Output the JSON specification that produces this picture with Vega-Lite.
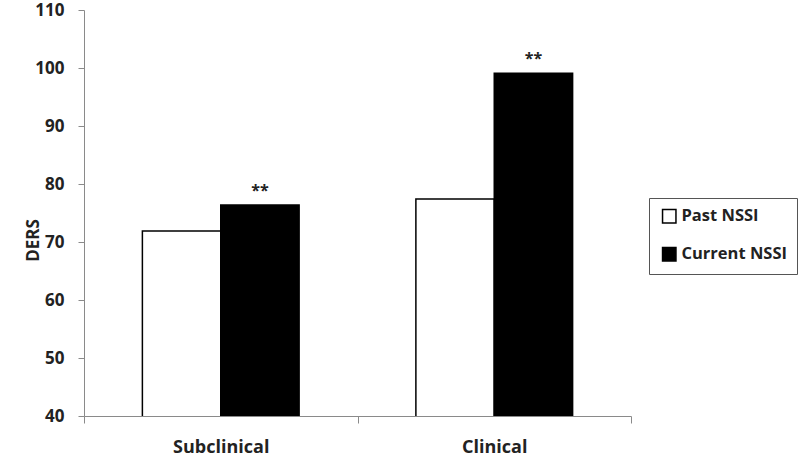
{
  "$schema": "https://vega.github.io/schema/vega-lite/v6.json",
  "autosize": {"type": "none"},
  "padding": {"left": 84, "top": 10, "right": 169, "bottom": 40},
  "width": 547,
  "height": 406,
  "background": "white",
  "config": {
    "view": {"stroke": null},
    "font": "Open Sans"
  },
  "data": {
    "values": [
      {"group": "Subclinical", "status": "Past NSSI", "ders": 71.9, "sig": ""},
      {"group": "Subclinical", "status": "Current NSSI", "ders": 76.4, "sig": "**"},
      {"group": "Clinical", "status": "Past NSSI", "ders": 77.4, "sig": ""},
      {"group": "Clinical", "status": "Current NSSI", "ders": 99.1, "sig": "**"}
    ]
  },
  "encoding": {
    "x": {
      "field": "group",
      "type": "nominal",
      "sort": ["Subclinical", "Clinical"],
      "scale": {"paddingInner": 0, "paddingOuter": 0},
      "axis": {
        "title": null,
        "labelAngle": 0,
        "tickBand": "extent",
        "domainColor": "#8a8a8a",
        "tickColor": "#8a8a8a",
        "tickSize": 7,
        "labelPadding": 15,
        "labelFontSize": 18,
        "labelFontWeight": "bold",
        "labelColor": "#222222"
      }
    },
    "xOffset": {
      "field": "status",
      "type": "nominal",
      "sort": ["Past NSSI", "Current NSSI"],
      "scale": {"paddingInner": 0, "paddingOuter": 0.745}
    },
    "y": {
      "field": "ders",
      "type": "quantitative",
      "scale": {"domain": [40, 110], "nice": false, "zero": false},
      "axis": {
        "title": "DERS",
        "titleFontSize": 17,
        "titleFontWeight": "bold",
        "titleColor": "#222222",
        "titleX": -42,
        "titleY": 230,
        "titleAlign": "center",
        "titleBaseline": "bottom",
        "titleAngle": -90,
        "values": [40, 50, 60, 70, 80, 90, 100, 110],
        "grid": false,
        "domainColor": "#8a8a8a",
        "tickColor": "#8a8a8a",
        "tickSize": 6,
        "labelPadding": 14,
        "labelFontSize": 17,
        "labelFontWeight": "bold",
        "labelColor": "#222222"
      }
    }
  },
  "layer": [
    {
      "mark": {"type": "bar", "stroke": "black", "strokeWidth": 1.5, "clip": true},
      "encoding": {
        "fill": {
          "field": "status",
          "type": "nominal",
          "sort": ["Past NSSI", "Current NSSI"],
          "scale": {"domain": ["Past NSSI", "Current NSSI"], "range": ["white", "black"]},
          "legend": {
            "title": null,
            "orient": "none",
            "legendX": 565,
            "legendY": 188,
            "strokeColor": "#555555",
            "padding": 10,
            "symbolType": "square",
            "symbolSize": 180,
            "symbolStrokeColor": "black",
            "symbolStrokeWidth": 1.5,
            "labelFontSize": 16.5,
            "labelFontWeight": "bold",
            "labelColor": "#222222",
            "labelOffset": 4,
            "rowPadding": 18,
            "symbolOffset": 2
          }
        }
      }
    },
    {
      "mark": {"type": "text", "baseline": "bottom", "dy": -6, "fontSize": 16, "fontWeight": "bold", "color": "#222222"},
      "encoding": {
        "text": {"field": "sig"}
      }
    }
  ]
}
